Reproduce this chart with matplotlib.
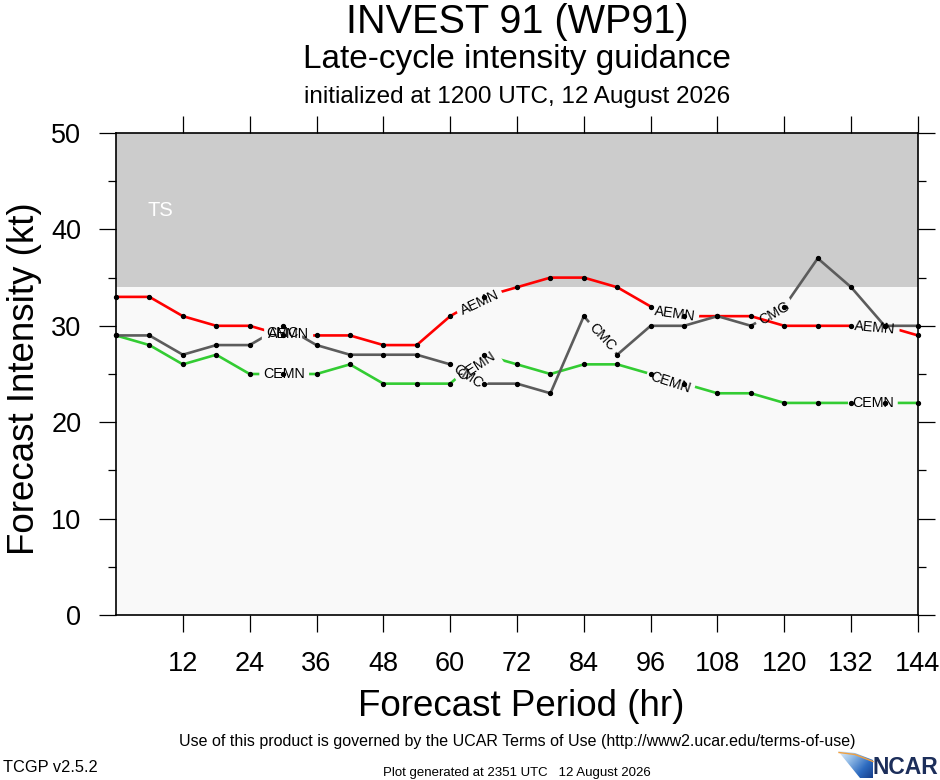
import numpy as np
import matplotlib
matplotlib.use('Agg')
import matplotlib.pyplot as plt
from matplotlib.path import Path
from matplotlib.transforms import IdentityTransform
from matplotlib.patches import Polygon
from matplotlib.colors import LinearSegmentedColormap

plt.rcParams['font.family'] = ['Liberation Sans', 'DejaVu Sans']

# ---------------- data ----------------
hours = [0, 6, 12, 18, 24, 30, 36, 42, 48, 54, 60, 66, 72, 78, 84, 90, 96, 102,
         108, 114, 120, 126, 132, 138, 144]
aemn = [33, 33, 31, 30, 30, 29, 29, 29, 28, 28, 31, 33, 34, 35, 35, 34, 32, 31,
        31, 31, 30, 30, 30, 30, 29]
cmc = [29, 29, 27, 28, 28, 30, 28, 27, 27, 27, 26, 24, 24, 23, 31, 27, 30, 30,
       31, 30, 32, 37, 34, 30, 30]
cemn = [29, 28, 26, 27, 25, 25, 25, 26, 24, 24, 24, 27, 26, 25, 26, 26, 25, 24,
        23, 23, 22, 22, 22, 22, 22]
x_ticks = [12, 24, 36, 48, 60, 72, 84, 96, 108, 120, 132, 144]
y_ticks = [0, 10, 20, 30, 40, 50]
y_minor = [5, 15, 25, 35, 45]
ts_threshold = 34

# line labels: (text, hour, kt, rotation)
aemn_labels = [("AEMN", 31.0, 29.2, 0), ("AEMN", 65.3, 32.4, 25),
               ("AEMN", 100.3, 31.2, -8), ("AEMN", 136.3, 29.8, -5)]
cemn_labels = [("CEMN", 30.2, 25.0, 0), ("CEMN", 64.8, 25.8, 33),
               ("CEMN", 99.5, 24.1, -18), ("CEMN", 135.9, 22.0, 0)]
cmc_labels = [("CMC", 29.8, 29.3, 0), ("CMC", 63.2, 24.8, -33),
              ("CMC", 87.3, 28.8, -47), ("CMG", 118.2, 31.3, 30)]

W_PX, H_PX = 940, 780
fig = plt.figure(figsize=(W_PX / 100, H_PX / 100), dpi=100, facecolor='white')
ax = fig.add_axes([116 / W_PX, 1 - 615 / H_PX, 802 / W_PX, 482 / H_PX])
ax.set_facecolor('#f9f9f9')
ax.set_xlim(0, 144)
ax.set_ylim(0, 50)
ax.axhspan(ts_threshold, 50, color='#cccccc', zorder=0, lw=0)
ax.text(8, 42, 'TS', color='white', fontsize=14.5, ha='center', va='center', zorder=1)

series = [
    (cemn, '#33cc33', cemn_labels, 3.0),
    (aemn, '#ff0000', aemn_labels, 3.1),
    (cmc, '#5c5c5c', cmc_labels, 3.2),
]
drawn = []
for vals, col, labs, z in series:
    ln, = ax.plot(hours, vals, color=col, lw=1.9, zorder=z, solid_joinstyle='round')
    texts = []
    for s, hx, ky, rot in labs:
        t = ax.text(hx, ky, s, fontsize=10.3, ha='center', va='center', rotation=rot,
                    rotation_mode='anchor', zorder=6, color='black',
                    bbox=dict(boxstyle='square,pad=0.28', fc='none', ec='none'))
        texts.append(t)
    drawn.append((ln, texts))

for vals, col, labs, z in series:
    ax.plot(hours, vals, 'o', color='black', ms=2.8, zorder=8, clip_on=False)

ax.set_xticks(x_ticks)
ax.set_yticks(y_ticks)
ax.set_yticks(y_minor, minor=True)
ax.tick_params(which='major', direction='out', length=12, width=0.9, labelsize=19.5,
               top=True, right=True, labeltop=False, labelright=False)
ax.tick_params(axis='x', which='major', pad=14)
ax.tick_params(axis='y', which='major', pad=13)
ax.tick_params(which='minor', direction='out', length=6, width=0.9, right=True)
for sp in ax.spines.values():
    sp.set_linewidth(1.2)

ax.set_xlabel('Forecast Period (hr)', fontsize=26.5, va='center')
ax.xaxis.set_label_coords((521 - 116) / 802, (615 - 707) / 482)
ax.set_ylabel('Forecast Intensity (kt)', fontsize=26.5, va='center', ha='center')
ax.yaxis.set_label_coords((24 - 116) / 802, (615 - 379) / 482)

cx = 517 / W_PX
fig.text(cx, 1 - 33 / H_PX, 'INVEST 91 (WP91)', fontsize=28.5, ha='center', va='baseline')
fig.text(cx, 1 - 68 / H_PX, 'Late-cycle intensity guidance', fontsize=24, ha='center', va='baseline')
fig.text(cx, 1 - 103 / H_PX, 'initialized at 1200 UTC, 12 August 2026', fontsize=17.5,
         ha='center', va='baseline')
fig.text(cx, 1 - 746 / H_PX,
         'Use of this product is governed by the UCAR Terms of Use (http://www2.ucar.edu/terms-of-use)',
         fontsize=11.5, ha='center', va='baseline')
fig.text(3 / W_PX, 1 - 772 / H_PX, 'TCGP v2.5.2', fontsize=11.8, ha='left', va='baseline')
fig.text(cx, 1 - 776 / H_PX, 'Plot generated at 2351 UTC   12 August 2026', fontsize=9.5,
         ha='center', va='baseline')
fig.text(872 / W_PX, 1 - 774 / H_PX, 'NCAR', fontsize=16.5, weight='bold', color='#1c2e5a',
         ha='left', va='baseline')

# NCAR logo swoosh
lax = fig.add_axes([835 / W_PX, 0, 42 / W_PX, 32 / H_PX])
lax.set_xlim(835, 877)
lax.set_ylim(780, 748)
lax.axis('off')
gx = np.linspace(0, 1, 80)
gy = np.linspace(0, 1, 60)
GX, GY = np.meshgrid(gx, gy)
cmap = LinearSegmentedColormap.from_list('ncar', ['#ffffff', '#9cc3ea', '#2d6bc0', '#0f2f78'])
im = lax.imshow(0.6 * GX + 0.4 * GY, extent=(835, 877, 780, 748), cmap=cmap, aspect='auto')
poly = Polygon([(838, 751), (855, 753), (873, 760), (873, 778), (860, 778)], closed=True,
               fc='none', ec='none', transform=lax.transData)
lax.add_patch(poly)
im.set_clip_path(poly)
lax.plot([839, 855, 873], [752.5, 754.5, 761.5], color='#f0a040', lw=1.0)

# break each line around its own labels
fig.canvas.draw()
Wd, Hd = fig.canvas.get_width_height()
for ln, texts in drawn:
    verts = [(-20, -20), (Wd + 20, -20), (Wd + 20, Hd + 20), (-20, Hd + 20), (-20, -20)]
    codes = [Path.MOVETO, Path.LINETO, Path.LINETO, Path.LINETO, Path.CLOSEPOLY]
    for t in texts:
        p = t.get_bbox_patch()
        poly_pts = p.get_path().transformed(p.get_transform()).to_polygons()[0]
        xs, ys = poly_pts[:, 0], poly_pts[:, 1]
        area = 0.5 * np.sum(xs * np.roll(ys, -1) - np.roll(xs, -1) * ys)
        if area > 0:
            poly_pts = poly_pts[::-1]
        pts = [tuple(v) for v in poly_pts]
        if pts[0] != pts[-1]:
            pts.append(pts[0])
        verts += pts
        codes += [Path.MOVETO] + [Path.LINETO] * (len(pts) - 2) + [Path.CLOSEPOLY]
    ln.set_clip_path(Path(verts, codes), IdentityTransform())

fig.savefig('out.png', dpi=100, facecolor='white')
